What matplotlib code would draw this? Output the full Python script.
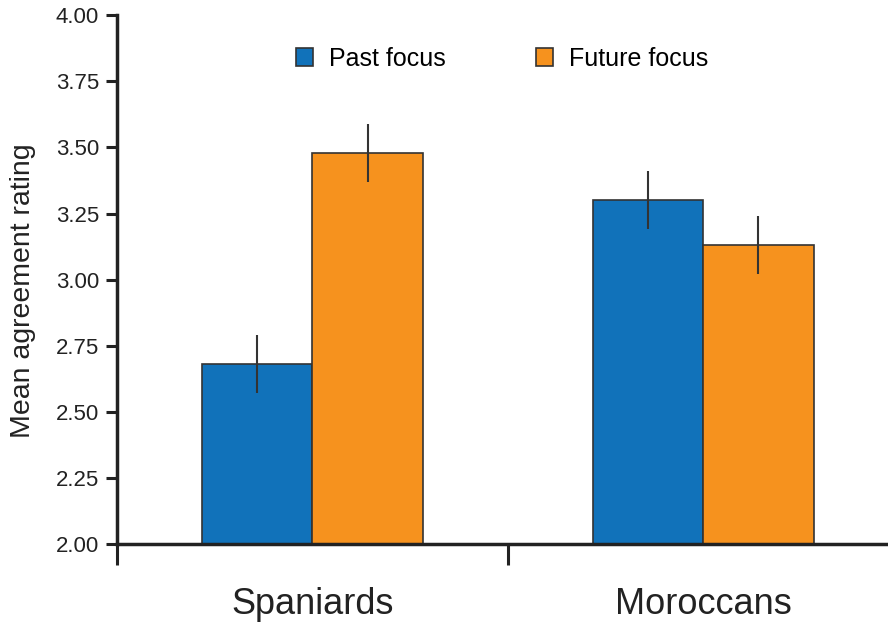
import matplotlib
matplotlib.use("Agg")
import matplotlib.pyplot as plt
import numpy as np

plt.rcParams['font.family'] = ['Liberation Sans', 'DejaVu Sans']

groups = ["Spaniards", "Moroccans"]
series = ["Past focus", "Future focus"]
past = [2.68, 3.30]
future = [3.48, 3.13]
past_err = [0.11, 0.11]
future_err = [0.11, 0.11]
yticks = [2.00, 2.25, 2.50, 2.75, 3.00, 3.25, 3.50, 3.75, 4.00]

blue = "#1172ba"
orange = "#f6921e"
edge = "#333333"

fig = plt.figure(figsize=(8.88, 6.26), dpi=100)
ax = fig.add_axes([0.1318, 0.1305, 0.8682, 0.8455])

x = np.arange(len(groups))
w = 0.283
ax.bar(x - w / 2, past, w, color=blue, edgecolor=edge, linewidth=1.2,
       label=series[0], zorder=2)
ax.bar(x + w / 2, future, w, color=orange, edgecolor=edge, linewidth=1.2,
       label=series[1], zorder=2)
ax.errorbar(x - w / 2, past, yerr=past_err, fmt="none", ecolor=edge,
            elinewidth=1.5, capsize=0, zorder=3)
ax.errorbar(x + w / 2, future, yerr=future_err, fmt="none", ecolor=edge,
            elinewidth=1.5, capsize=0, zorder=3)

ax.set_yticks(yticks)
ax.set_yticklabels(["%.2f" % t for t in yticks], fontsize=16, color="#222222")
ax.tick_params(axis="y", direction="out", length=8, width=2.2, color="#222222", pad=5)

# boundary ticks between groups, group names as minor tick labels
ax.set_xticks([-0.5, 0.5, 1.5])
ax.set_xticklabels([])
ax.tick_params(axis="x", which="major", direction="out", length=15, width=2.2,
               color="#222222")
ax.set_xticks(x, minor=True)
ax.set_xticklabels(groups, minor=True, fontsize=26, color="#222222")
ax.tick_params(axis="x", which="minor", length=0, pad=31)

ax.set_ylim(2.0, 4.0)
ax.set_xlim(-0.5, 1.473)

for s in ["top", "right"]:
    ax.spines[s].set_visible(False)
for s in ["left", "bottom"]:
    ax.spines[s].set_linewidth(2.5)
    ax.spines[s].set_color("#222222")

ax.set_ylabel("Mean agreement rating", fontsize=20.5, color="#222222",
              labelpad=14, y=0.48)

ax.legend(loc="upper left", bbox_to_anchor=(0.232, 0.94), ncol=2, frameon=False,
          fontsize=18, handlelength=0.7, handleheight=0.7, handletextpad=0.62,
          columnspacing=3.6, borderpad=0, borderaxespad=0)

fig.savefig("out.png", dpi=100)
